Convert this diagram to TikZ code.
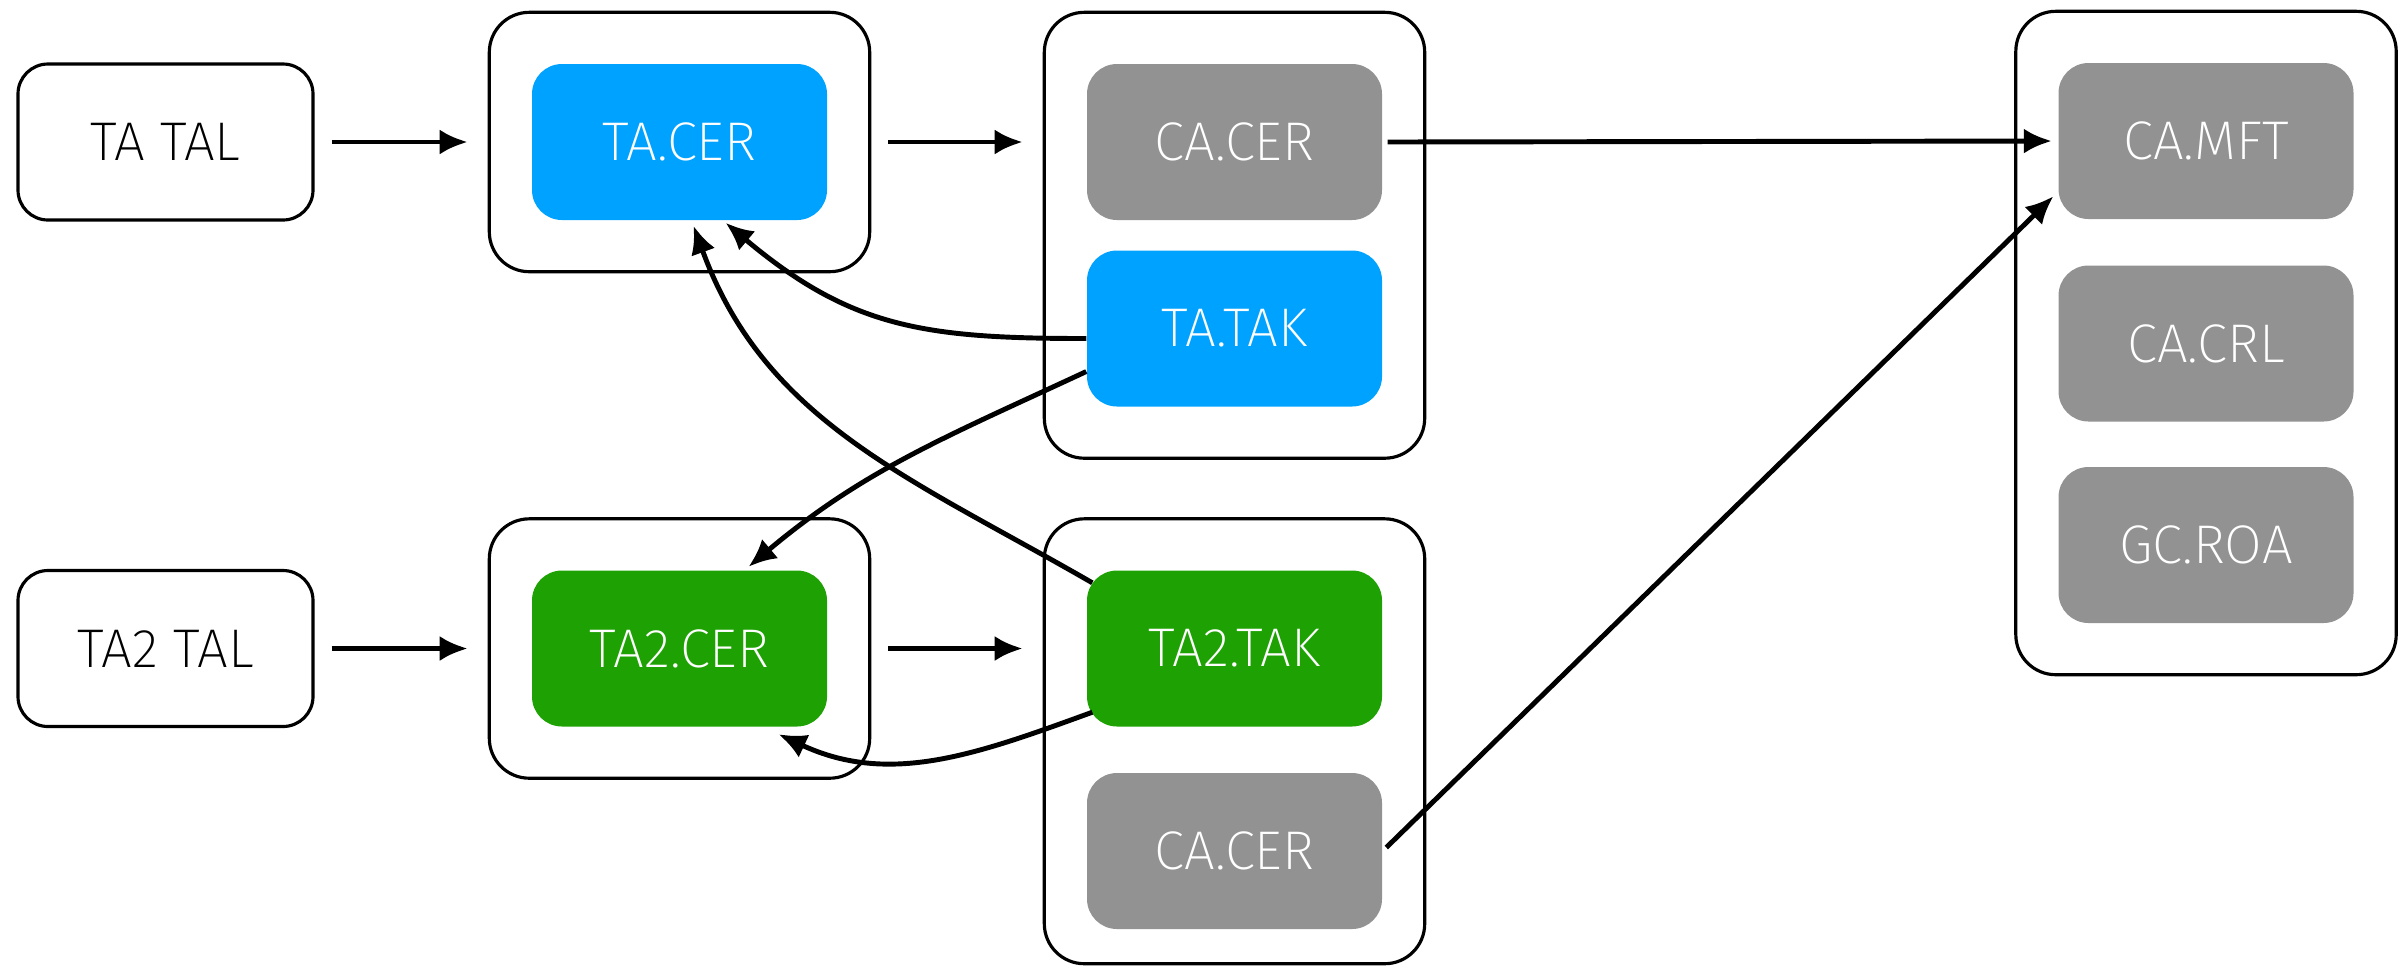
\documentclass[tikz,border=0pt]{standalone}
\usepackage{fontspec}
\setmainfont{Fira Sans}[UprightFont=* ExtraLight]
\usepackage{tikz}
\usetikzlibrary{calc,fit,arrows.meta}

\definecolor{tablue}{HTML}{00A2FF}
\definecolor{tagreen}{HTML}{1DA103}
\definecolor{cagray}{HTML}{929292}

\tikzset{
  obj/.style={rounded corners=0.3cm, minimum width=2.95cm, minimum height=1.56cm,
    font=\fontsize{15.5}{18}\selectfont, text=white},
  tal/.style={obj, draw, line width=0.9pt, text=black},
  holder/.style={draw, line width=0.9pt, rounded corners=0.4cm,
    inner xsep=0.42cm, inner ysep=0.51cm},
  link/.style={line width=1.4pt, -{Latex[length=0.28cm,width=0.25cm]}},
}

\begin{document}
\begin{tikzpicture}
    \useasboundingbox (0,0) rectangle (24.08,-9.66);
    % top row
    \node[tal] (tatal) at (1.655,-1.42) {TA TAL};
    \node[obj, fill=tablue] (tacer) at (6.795,-1.42) {TA.CER};
    \node[obj, fill=cagray] (cacer) at (12.345,-1.42) {CA.CER};
    \node[obj, fill=tablue] (tatak) at (12.345,-3.285) {TA.TAK};
    % bottom row
    \node[tal] (tatwotal) at (1.655,-6.485) {TA2 TAL};
    \node[obj, fill=tagreen] (tatwocer) at (6.795,-6.485) {TA2.CER};
    \node[obj, fill=tagreen] (tatwotak) at (12.345,-6.485) {TA2.TAK};
    \node[obj, fill=cagray] (cacertwo) at (12.345,-8.51) {CA.CER};
    % repository on the right
    \node[obj, fill=cagray] (camft) at (22.06,-1.41) {CA.MFT};
    \node[obj, fill=cagray] (cacrl) at (22.06,-3.435) {CA.CRL};
    \node[obj, fill=cagray] (gcroa) at (22.06,-5.45) {GC.ROA};

    % containers
    \coordinate (pubfoot) at ($(cacertwo.south)+(0,0.17)$);
    \node[holder, fit=(tacer)] (tabox) {};
    \node[holder, fit=(cacer) (tatak)] (tapub) {};
    \node[holder, fit=(tatwocer)] (tatwobox) {};
    \node[holder, fit=(tatwotak) (pubfoot)] (tatwopub) {};
    \node[holder, fit=(camft) (gcroa)] (capub) {};

    \draw[link, shorten <=0.17cm, shorten >=0.2cm] (tatal.east) -- (tabox.west);
    \draw[link, shorten <=0.17cm, shorten >=0.2cm] (tabox.east) -- (tabox.east -| tapub.west);
    \draw[link, shorten <=0.17cm, shorten >=0.2cm] (tatwotal.east) -- (tatwobox.west);
    \draw[link, shorten <=0.17cm, shorten >=0.2cm] (tatwobox.east) -- (tatwobox.east -| tatwopub.west);

    \draw[link, shorten <=0.05cm, shorten >=0.06cm] (cacer.east) -- (camft.west);
    \coordinate (mftin) at ($(camft.west)+(0,-0.51)$);
    \draw[link, shorten <=0.05cm, shorten >=0.06cm] (cacertwo.east) -- (mftin);

    \draw[link] ($(tatak.west)+(0,-0.1)$) to[out=180, in=-40, looseness=1.1] ($(tacer.south)+(0.46,-0.02)$);
    \draw[link] ($(tatwotak.north west)+(0.06,-0.13)$) to[out=150, in=-70] ($(tacer.south)+(0.14,-0.05)$);
    \draw[link] ($(tatak.west)+(0,-0.43)$) to[out=205, in=40] ($(tatwocer.north)+(0.69,0.03)$);
    \draw[link] ($(tatwotak.south west)+(0.06,0.15)$) to[out=200, in=-25] ($(tatwocer.south)+(0.99,-0.07)$);
\end{tikzpicture}
\end{document}
